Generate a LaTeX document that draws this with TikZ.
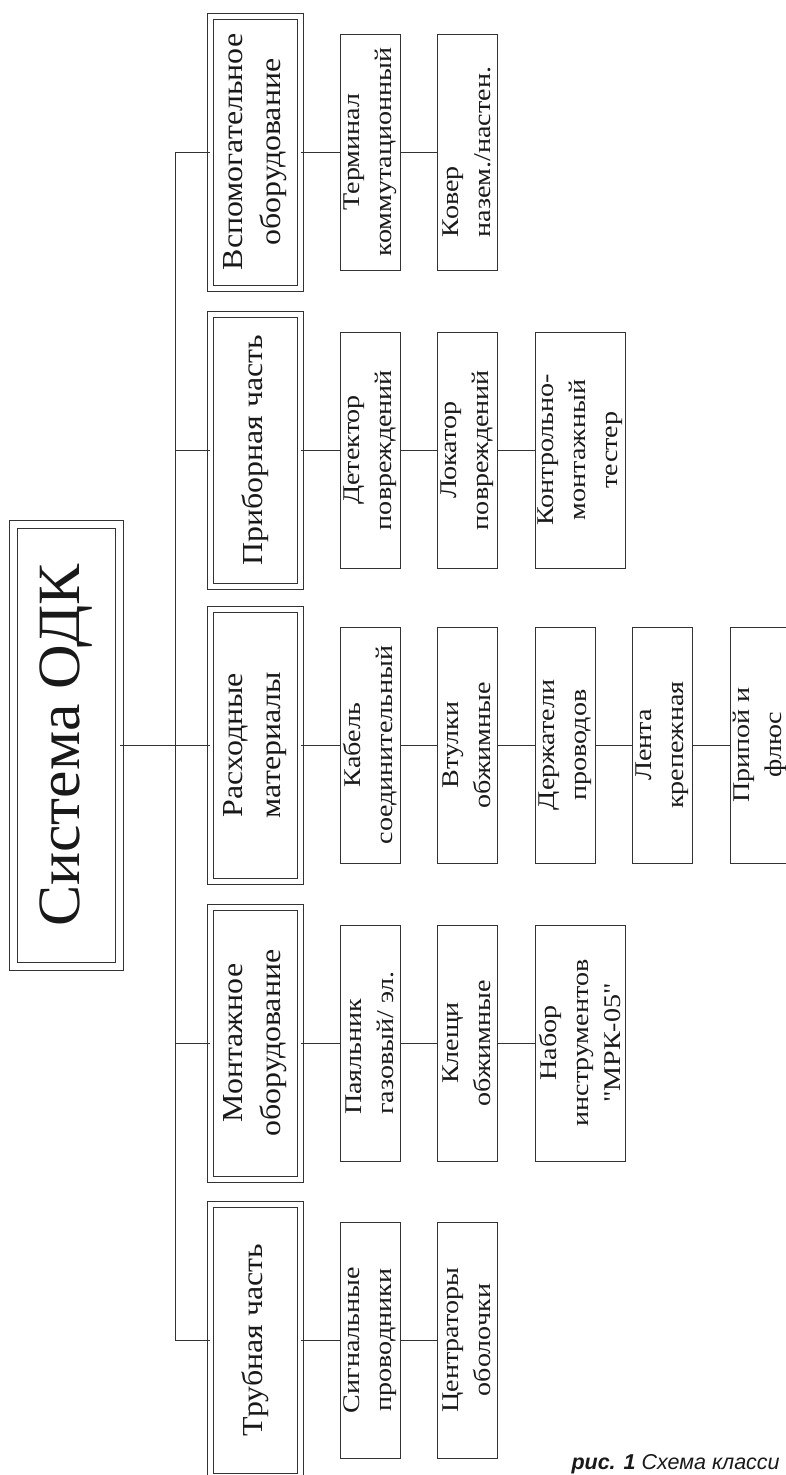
\documentclass[tikz,border=0pt]{standalone}
\usepackage{fontspec}
\setmainfont{Liberation Serif}
\newfontfamily\titlefont[FakeStretch=1.03]{Liberation Serif}
\newfontfamily\headfont[FakeStretch=1.1]{Liberation Serif}
\newfontfamily\boxfont[FakeStretch=1.17]{Liberation Serif}
\newfontfamily\capfont{Liberation Sans}
\begin{document}
\begin{tikzpicture}[x=1pt,y=-1pt,line width=1pt,
    box/.style={draw=black!80,text=black!90,inner sep=0pt,rotate=90,align=center},
    titlebox/.style={box,double,double distance=7.5pt,minimum width=442pt,minimum height=106pt,
      font=\titlefont\fontsize{60}{70}\selectfont},
    groupbox/.style={box,double,double distance=5pt,minimum width=272pt,minimum height=90pt,
      font=\headfont\fontsize{29}{38}\selectfont},
    itembox/.style={box,minimum width=236pt,minimum height=60pt,
      font=\boxfont\fontsize{24}{32}\selectfont},
    widebox/.style={itembox,minimum height=90pt}]
  \clip (0,0) rectangle (786,1475);

  % Define the bus
  \def\busx{175}
  \coordinate (bustop) at (\busx,152);
  \coordinate (busbot) at (\busx,1340);

  % Title
  \node[titlebox] (odk) at (66.5,745.5) {Система ОДК};

  % Groups
  \node[groupbox] (vspom)   at (255,152)  {Вспомогательное\\оборудование};
  \node[groupbox] (pribor)  at (255,450)  {Приборная часть};
  \node[groupbox] (raskhod) at (255,745)  {Расходные\\материалы};
  \node[groupbox] (montazh) at (255,1043) {Монтажное\\оборудование};
  \node[groupbox] (trub)    at (255,1340) {Трубная часть};

  % Items
  \node[itembox] (terminal) at (370,152) {Терминал\\коммутационный};
  \node[itembox,align=left] (kover) at (467,152) {Ковер\\назем./настен.};

  \node[itembox] (detektor) at (370,450) {Детектор\\повреждений};
  \node[itembox] (lokator)  at (467,450) {Локатор\\повреждений};
  \node[widebox] (kontrol)  at (580,450) {Контрольно-\\монтажный\\тестер};

  \node[itembox] (kabel)  at (370,745)   {Кабель\\соединительный};
  \node[itembox] (vtulki) at (467,745)   {Втулки\\обжимные};
  \node[itembox] (derzh)  at (565,745)   {Держатели\\проводов};
  \node[itembox] (lenta)  at (662.5,745) {Лента\\крепежная};
  \node[itembox] (pripoy) at (760,745)   {Припой и\\флюс};

  \node[itembox,align=left] (payal) at (370,1043) {Паяльник\\газовый/ эл.};
  \node[itembox] (kleshi) at (467,1043) {Клещи\\обжимные};
  \node[widebox] (nabor)  at (580,1043) {Набор\\инструментов\\"МРК-05"};

  \node[itembox] (signal) at (370,1340) {Сигнальные\\проводники};
  \node[itembox] (centr)  at (467,1340) {Центраторы\\оболочки};

  % Connectors
  \draw[black!80] (bustop) -- (busbot);
  \draw[black!80] (odk) -- (odk -| bustop);
  \foreach \g in {vspom,pribor,raskhod,montazh,trub}
    \draw[black!80] (\g -| bustop) -- (\g);
  \draw[black!80] (vspom) -- (terminal) -- (kover);
  \draw[black!80] (pribor) -- (detektor) -- (lokator) -- (kontrol);
  \draw[black!80] (raskhod) -- (kabel) -- (vtulki) -- (derzh) -- (lenta) -- (pripoy);
  \draw[black!80] (montazh) -- (payal) -- (kleshi) -- (nabor);
  \draw[black!80] (trub) -- (signal) -- (centr);

  % Caption
  \node[anchor=base west,inner sep=0pt,text=black!90,font=\capfont\itshape\fontsize{21.5}{24}\selectfont]
    (caption) at (571,1469) {\textbf{рис. 1} Схема класси};
\end{tikzpicture}
\end{document}
